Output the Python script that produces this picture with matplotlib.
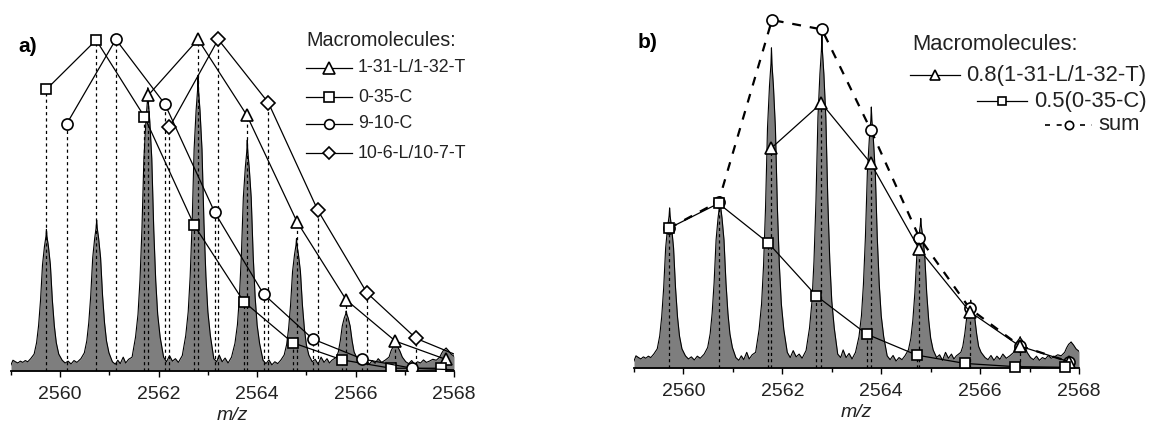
import matplotlib
matplotlib.use("Agg")
import matplotlib.pyplot as plt
from matplotlib.ticker import MultipleLocator

plt.rcParams["font.family"] = ["Liberation Sans", "DejaVu Sans"]

spec_mz = [2559.00, 2559.04, 2559.09, 2559.14, 2559.19, 2559.24, 2559.29, 2559.34,
           2559.40, 2559.47, 2559.52, 2559.56, 2559.60, 2559.64, 2559.68, 2559.71, 2559.72,
           2559.73, 2559.76, 2559.80, 2559.84, 2559.88, 2559.92, 2559.97, 2560.04,
           2560.10, 2560.16, 2560.22, 2560.28, 2560.34,
           2560.42, 2560.49, 2560.54, 2560.58, 2560.62, 2560.66, 2560.70, 2560.73, 2560.74,
           2560.75, 2560.78, 2560.82, 2560.86, 2560.90, 2560.94, 2560.99, 2561.06,
           2561.12, 2561.17, 2561.22, 2561.28, 2561.33, 2561.39,
           2561.46, 2561.53, 2561.58, 2561.62, 2561.66, 2561.70, 2561.74, 2561.77, 2561.78,
           2561.79, 2561.82, 2561.86, 2561.90, 2561.94, 2561.98, 2562.03, 2562.10,
           2562.16, 2562.22, 2562.28, 2562.34, 2562.40,
           2562.48, 2562.55, 2562.60, 2562.64, 2562.68, 2562.72, 2562.76, 2562.79, 2562.80,
           2562.81, 2562.84, 2562.88, 2562.92, 2562.96, 2563.00, 2563.05, 2563.12,
           2563.18, 2563.23, 2563.29, 2563.35, 2563.41,
           2563.48, 2563.55, 2563.60, 2563.64, 2563.68, 2563.72, 2563.76, 2563.79, 2563.80,
           2563.81, 2563.84, 2563.88, 2563.92, 2563.96, 2564.00, 2564.05, 2564.12,
           2564.18, 2564.24, 2564.30, 2564.36, 2564.42,
           2564.48, 2564.55, 2564.60, 2564.64, 2564.68, 2564.72, 2564.76, 2564.79, 2564.80,
           2564.81, 2564.84, 2564.88, 2564.92, 2564.96, 2565.00, 2565.05, 2565.12,
           2565.18, 2565.24, 2565.30, 2565.36, 2565.42, 2565.47,
           2565.52, 2565.61, 2565.65, 2565.69, 2565.73, 2565.77, 2565.80, 2565.81,
           2565.82, 2565.85, 2565.89, 2565.93, 2565.97, 2566.02, 2566.10,
           2566.16, 2566.22, 2566.28, 2566.34, 2566.40, 2566.46, 2566.53,
           2566.60, 2566.68, 2566.72, 2566.76, 2566.80, 2566.81,
           2566.82, 2566.86, 2566.90, 2566.95, 2567.02,
           2567.08, 2567.14, 2567.20, 2567.26, 2567.32, 2567.38, 2567.44, 2567.50, 2567.57,
           2567.64, 2567.71, 2567.75, 2567.79, 2567.83, 2567.84,
           2567.85, 2567.89, 2567.94, 2568.00]
spec_int = [2.0, 3.5, 3.0, 2.6, 3.2, 2.8, 3.4, 3.0,
            4.0, 5.5, 9.2, 14.7, 23.0, 34.5, 40.5, 43.7, 46.0,
            43.7, 40.5, 34.5, 23.0, 14.7, 9.2, 5.5, 3.5,
            2.6, 3.2, 2.3, 3.4, 2.8,
            4.0, 5.9, 9.8, 15.7, 24.5, 36.8, 43.1, 46.6, 49.0,
            46.6, 43.1, 36.8, 24.5, 15.7, 9.8, 5.9, 3.0,
            2.2, 3.5, 2.4, 4.5, 2.6, 3.8,
            4.5, 11.0, 18.4, 29.4, 46.0, 69.0, 81.0, 87.4, 92.0,
            87.4, 81.0, 69.0, 46.0, 29.4, 18.4, 11.0, 4.5,
            3.0, 5.0, 3.2, 4.0, 2.8,
            5.0, 11.5, 19.2, 30.7, 48.0, 72.0, 84.5, 91.2, 96.0,
            91.2, 84.5, 72.0, 48.0, 30.7, 19.2, 11.5, 4.0,
            3.0, 5.2, 3.0, 4.2, 2.6,
            4.5, 9.0, 15.0, 24.0, 37.5, 56.3, 66.0, 71.3, 75.0,
            71.3, 66.0, 56.3, 37.5, 24.0, 15.0, 9.0, 3.5,
            2.4, 3.6, 2.0, 3.0, 2.4,
            3.5, 5.2, 8.6, 13.8, 21.5, 32.3, 37.8, 40.9, 43.0,
            40.9, 37.8, 32.3, 21.5, 13.8, 8.6, 5.2, 3.0,
            3.8, 2.2, 4.5, 2.8, 4.0, 2.6,
            3.5, 4.5, 6.2, 9.8, 14.6, 17.2, 18.5, 19.5,
            18.5, 17.2, 14.6, 9.8, 6.2, 4.5, 3.0,
            2.4, 3.6, 2.2, 3.4, 2.5, 4.0, 2.8,
            3.5, 4.5, 6.5, 7.8, 8.6, 9.0,
            8.6, 7.8, 6.5, 4.5, 3.0,
            2.4, 3.4, 2.2, 3.0, 2.6, 3.6, 2.8, 3.2, 3.8,
            3.5, 4.5, 5.8, 6.8, 7.3, 7.5,
            7.3, 6.6, 5.5, 4.8]

# panel a: calculated isotope patterns
tri_a_mz = [2561.79, 2562.80, 2563.79, 2564.81, 2565.81, 2566.81, 2567.83]
tri_a_int = [89.6, 107.7, 83.1, 48.5, 23.1, 9.7, 3.8]
sq_a_mz = [2559.72, 2560.73, 2561.71, 2562.72, 2563.73, 2564.72, 2565.73, 2566.72, 2567.74]
sq_a_int = [91.5, 107.5, 82.6, 47.4, 22.5, 9.2, 3.6, 0.9, 0.9]
circ_a_mz = [2560.13, 2561.13, 2562.13, 2563.14, 2564.13, 2565.13, 2566.14, 2567.15, 2568.15]
circ_a_int = [80.2, 107.7, 86.6, 51.5, 25.0, 10.4, 3.9, 0.9, 0.3]
dia_a_mz = [2562.22, 2563.21, 2564.23, 2565.23, 2566.23, 2567.23, 2568.23]
dia_a_int = [79.2, 107.7, 87.1, 52.3, 25.4, 10.6, 4.0]
labels_a = ["1-31-L/1-32-T", "0-35-C", "9-10-C", "10-6-L/10-7-T"]

# panel b: weighted patterns and their sum
tri_b_mz = [2561.77, 2562.79, 2563.79, 2564.77, 2565.79, 2566.80, 2567.80]
tri_b_int = [63.1, 76.1, 58.8, 34.1, 16.2, 6.3, 1.8]
sq_b_mz = [2559.70, 2560.71, 2561.71, 2562.69, 2563.71, 2564.72, 2565.70, 2566.70, 2567.71]
sq_b_int = [40.1, 47.3, 36.0, 20.7, 9.7, 3.7, 1.3, 0.4, 0.2]
sum_b_mz = [2559.70, 2560.71, 2561.79, 2562.80, 2563.79, 2564.77, 2565.79, 2566.80, 2567.80]
sum_b_int = [40.1, 47.8, 100.0, 97.3, 68.4, 37.5, 17.1, 6.4, 1.8]
labels_b = ["0.8(1-31-L/1-32-T)", "0.5(0-35-C)", "sum"]

W, H = 1161, 428
fig = plt.figure(figsize=(W / 100, H / 100), dpi=100)
ax_a = fig.add_axes([11 / W, 57 / H, 443 / W, 351 / H])
ax_b = fig.add_axes([634 / W, 60 / H, 445 / W, 348 / H])

grey = "#7e7e7e"
txt = "#222222"
mk = dict(markerfacecolor="white", markeredgecolor="black", markeredgewidth=1.2)


def style_axis(ax, ytop):
    ax.fill_between(spec_mz, 0, spec_int, color=grey, lw=0, zorder=1)
    ax.plot(spec_mz, spec_int, color="black", lw=0.8, zorder=2)
    ax.set_xlim(2559, 2568)
    ax.set_ylim(0, ytop)
    for s in ["left", "right", "top"]:
        ax.spines[s].set_visible(False)
    ax.spines["bottom"].set_linewidth(1.3)
    ax.set_yticks([])
    ax.xaxis.set_major_locator(MultipleLocator(2))
    ax.xaxis.set_minor_locator(MultipleLocator(1))
    ax.tick_params(axis="x", which="major", direction="out", length=4, width=1.0,
                   labelsize=14, pad=7, labelcolor=txt)
    ax.tick_params(axis="x", which="minor", direction="out", length=3, width=1.0)
    ax.set_xlabel("m/z", fontsize=14, style="italic", labelpad=3, color=txt)
    ax.set_facecolor("none")


style_axis(ax_a, 114)
style_axis(ax_b, 100)

dash_v = (0, (2.5, 2.5))

# panel a
series_a = [(tri_a_mz, tri_a_int, "^", 9), (sq_a_mz, sq_a_int, "s", 7.5),
            (circ_a_mz, circ_a_int, "o", 8), (dia_a_mz, dia_a_int, "D", 7.5)]
for xs, ys, m, ms in series_a:
    ax_a.vlines(xs, 0, ys, colors="black", linestyles=dash_v, lw=0.9, zorder=3)
for xs, ys, m, ms in series_a:
    ax_a.plot(xs, ys, color="black", lw=0.9, marker=m, markersize=ms, zorder=5, **mk)

# panel b
ax_b.vlines(tri_b_mz, 0, tri_b_int, colors="black", linestyles=dash_v, lw=0.9, zorder=3)
ax_b.vlines(sq_b_mz, 0, sq_b_int, colors="black", linestyles=dash_v, lw=0.9, zorder=3)
ax_b.plot(sum_b_mz, sum_b_int, color="black", lw=1.6, ls=(0, (4, 4)), marker="o",
          markersize=8, zorder=4, clip_on=False, **mk)
ax_b.plot(tri_b_mz, tri_b_int, color="black", lw=0.9, marker="^", markersize=8,
          zorder=5, clip_on=False, **mk)
ax_b.plot(sq_b_mz, sq_b_int, color="black", lw=0.9, marker="s", markersize=6.5,
          zorder=5, clip_on=False, **mk)


def fx(px):
    return px / W


def fy(py):
    return 1 - py / H


# legends drawn by hand
fig.text(fx(306), fy(41), "Macromolecules:", fontsize=14.2, va="center", ha="left", color=txt)
rows_a = [68, 97, 124, 153]
for (xs, ys, m, ms), lab, y in zip(series_a, labels_a, rows_a):
    fig.lines.append(plt.Line2D([fx(306), fx(352)], [fy(y), fy(y)], color="black", lw=0.9,
                                transform=fig.transFigure))
    fig.lines.append(plt.Line2D([fx(329)], [fy(y)], marker=m, markersize=ms - 1, lw=0,
                                transform=fig.transFigure, **mk))
    fig.text(fx(358), fy(y), lab, fontsize=12.8, va="center", ha="left", color=txt)

fig.text(fx(912), fy(45), "Macromolecules:", fontsize=15.8, va="center", ha="left", color=txt)
legend_b = [(910, 960, 966, 75, "^", 8, 0.9, "-"),
            (977, 1027, 1034, 101, "s", 6.5, 0.9, "-"),
            (1045, 1092, 1098, 125, "o", 7, 1.2, (0, (3, 4)))]
for (x0, x1, xt, y, m, ms, lw, ls), lab in zip(legend_b, labels_b):
    fig.lines.append(plt.Line2D([fx(x0), fx(x1)], [fy(y), fy(y)], color="black", lw=lw, ls=ls,
                                transform=fig.transFigure))
    fig.lines.append(plt.Line2D([fx((x0 + x1) / 2)], [fy(y)], marker=m, markersize=ms - 1, lw=0,
                                transform=fig.transFigure, **mk))
    fig.text(fx(xt), fy(y), lab, fontsize=15.8, va="center", ha="left", color=txt)

fig.text(fx(18), fy(47), "a)", fontsize=15, fontweight="bold", va="center", ha="left")
fig.text(fx(638), fy(43), "b)", fontsize=15, fontweight="bold", va="center", ha="left")

fig.savefig("out.png", dpi=100)
